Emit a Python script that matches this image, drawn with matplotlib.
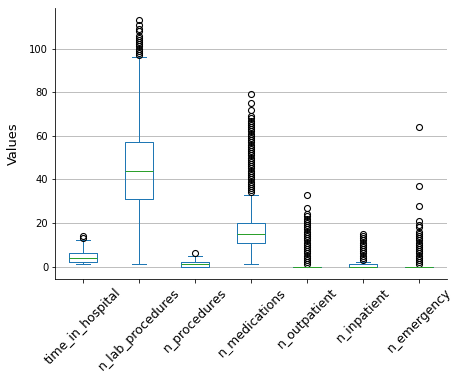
import matplotlib
matplotlib.use("Agg")
import matplotlib.pyplot as plt

columns = ["time_in_hospital", "n_lab_procedures", "n_procedures", "n_medications",
           "n_outpatient", "n_inpatient", "n_emergency"]
q1 = [2, 31, 0, 11, 0, 0, 0]
median = [4, 44, 1, 15, 0, 0, 0]
q3 = [6, 57, 2, 20, 0, 1, 0]
whis_lo = [1, 1, 0, 1, 0, 0, 0]
whis_hi = [12, 96, 5, 33, 0, 2, 0]
outliers = [
    [13, 14],
    list(range(97, 107)) + [108, 109, 111, 113],
    [6],
    list(range(34, 70)) + [72, 75, 79],
    list(range(1, 23)) + [23, 24, 27, 33],
    list(range(3, 16)),
    list(range(1, 17)) + [18, 19, 21, 28, 37, 64],
]

stats = []
for i, name in enumerate(columns):
    stats.append(dict(label=name, q1=q1[i], med=median[i], q3=q3[i],
                      whislo=whis_lo[i], whishi=whis_hi[i], fliers=outliers[i]))

fig = plt.figure(figsize=(460 / 72, 383 / 72), dpi=72)
ax = fig.add_axes([0.12, 0.272, 0.852, 0.707])

ax.bxp(stats,
       boxprops=dict(color="C0"),
       whiskerprops=dict(color="C0"),
       capprops=dict(color="C0"),
       medianprops=dict(color="C2"),
       flierprops=dict(marker="o", markerfacecolor="none", markeredgecolor="black",
                       markeredgewidth=1.1))

ax.yaxis.grid(True, color="#b0b0b0")
ax.set_axisbelow(True)
ax.spines["top"].set_visible(False)
ax.spines["right"].set_visible(False)
ax.set_ylabel("Values", fontsize=13, labelpad=9)
ax.set_yticks([0, 20, 40, 60, 80, 100])
plt.setp(ax.get_xticklabels(), rotation=45, fontsize=12.5)
plt.setp(ax.get_yticklabels(), fontsize=10)

fig.savefig("out.png", dpi=72)
